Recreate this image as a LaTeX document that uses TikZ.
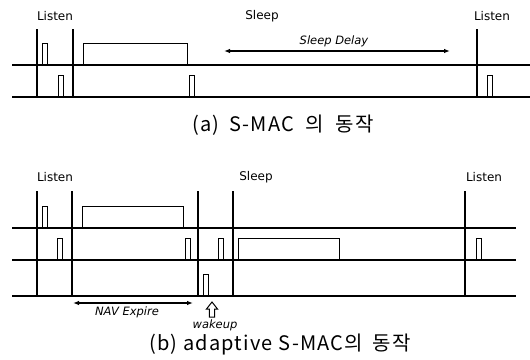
\documentclass[tikz,border=0pt]{standalone}
\usepackage{fontspec}
\setmainfont{DejaVu Sans}
\newfontfamily\krfont[LetterSpace=6]{Noto Sans CJK KR}
\usetikzlibrary{arrows.meta}

\tikzstyle{axis} = [draw, line width=1.2pt]
\tikzstyle{pulse} = [draw, line width=1pt, inner sep=0pt, minimum width=5pt, minimum height=21pt, anchor=south]
\tikzstyle{frame} = [draw, line width=1pt, inner sep=0pt, minimum height=21pt, anchor=south west]
\tikzstyle{state} = [font=\fontsize{12}{14}\selectfont]
\tikzstyle{description} = [font=\fontsize{11.5}{13}\selectfont\itshape, color=black]
\tikzstyle{span} = [draw, line width=1.1pt, {Latex[length=6pt,width=4.5pt]}-{Latex[length=6pt,width=4.5pt]}]
\tikzstyle{caption} = [font=\krfont\fontsize{20}{22}\selectfont]

\begin{document}
\begin{tikzpicture}[x=1pt, y=-1pt]
\useasboundingbox (0,0) rectangle (530,359);

%(a) S-MAC
\node (ListenA) [state] at (55,16){Listen};
\node (SleepA) [state] at (262,16){Sleep};
\node (ListenAr) [state] at (492,16){Listen};

\path [axis](12,65)--(530,65);
\path [axis](12,97)--(530,97);
\path [axis](37,29)--(37,97);
\path [axis](73,29)--(73,97);
\path [axis](477,29)--(477,97);

\node (SyncA) [pulse] at (44.5,65){};
\node (DataA) [frame, minimum width=104pt] at (83,65){};
\node (SyncAb) [pulse] at (60.5,97){};
\node (AckA) [pulse] at (191.5,97){};
\node (SyncAr) [pulse] at (489.5,97){};

\coordinate (DelayStart) at (224,51);
\coordinate (DelayEnd) at (450,51);
\path [span](DelayStart)--node[description, above, xshift=-3pt]{Sleep Delay}(DelayEnd);

\node (CaptionA) [caption] at (283,125){(a)\hspace{4pt} S-MAC\hspace{6pt} 의\hspace{6pt} 동작};

%(b) adaptive S-MAC
\node (ListenB) [state] at (55,177){Listen};
\node (SleepB) [state] at (256,177){Sleep};
\node (ListenBr) [state] at (484,177){Listen};

\path [axis](12,228)--(516,228);
\path [axis](12,260)--(516,260);
\path [axis](12,296)--(516,296);
\path [axis](37,191)--(37,296);
\path [axis](72,191)--(72,296);
\path [axis](198,191)--(198,296);
\path [axis](233,191)--(233,296);
\path [axis](465,191)--(465,296);

%Above
\node (SyncB) [pulse] at (45,228){};
\node (DataB) [frame, minimum width=101pt] at (82,228){};
%Middle
\node (SyncBb) [pulse] at (59.5,260){};
\node (AckB) [pulse] at (188,260){};
\node (RtsB) [pulse] at (220.5,260){};
\node (DataBb) [frame, minimum width=101pt] at (238,260){};
\node (SyncBr) [pulse] at (478.5,260){};
%Below
\node (WakePulse) [pulse] at (205.5,296){};

\coordinate (NavStart) at (73,303);
\coordinate (NavEnd) at (193,303);
\path [span](NavStart)--node[description, below, xshift=-6pt]{NAV Expire}(NavEnd);

\coordinate (Wakeup) at (212,302);
\draw [line width=1pt](Wakeup)--++(5.5,7)--++(-2.8,0)--++(0,8)--++(-5.4,0)--++(0,-8)--++(-2.8,0)--cycle;
\node (WakeupLabel) [description] at (215,325){wakeup};

\node (CaptionB) [caption] at (280,345){(b) adaptive S-MAC의\hspace{4pt} 동작};

\end{tikzpicture}
\end{document}
